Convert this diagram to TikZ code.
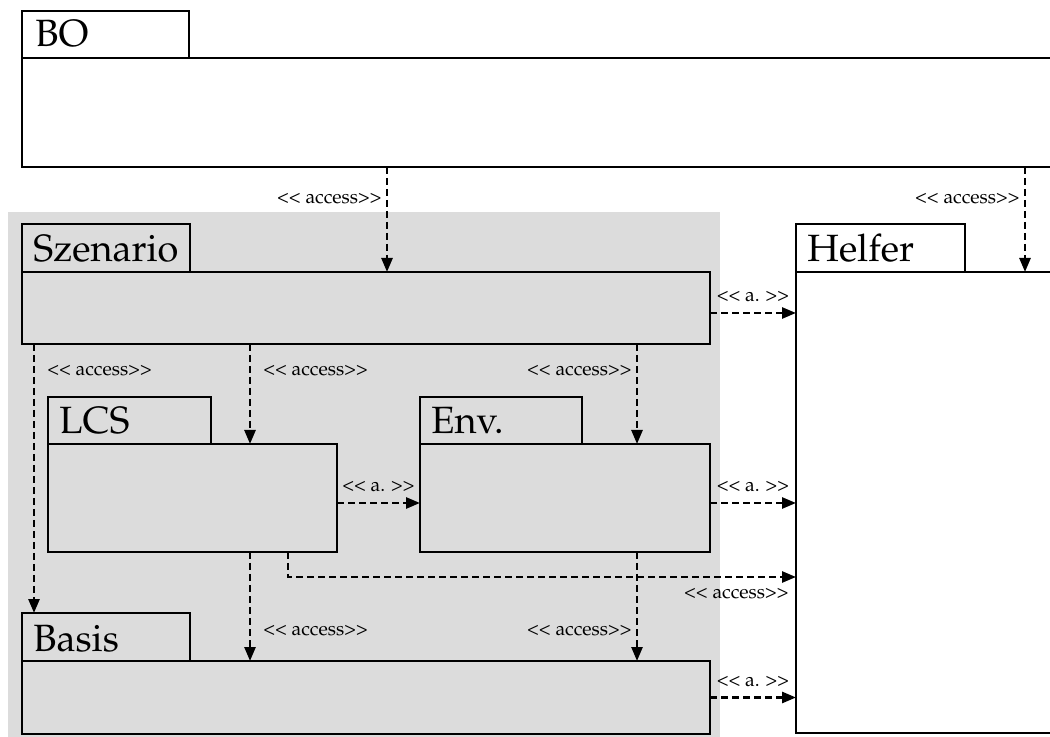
\documentclass[tikz,border=0pt]{standalone}
\usepackage[T1]{fontenc}
\usepackage{mathpazo}
\usetikzlibrary{arrows.meta,calc}
\definecolor{bggray}{HTML}{DCDCDC}
\tikzset{
  pkg/.style={draw, line width=1.2pt, anchor=north west, inner sep=0pt, outer sep=0pt},
  bgbox/.style={fill=bggray, draw=none, anchor=north west, inner sep=0pt, outer sep=0pt},
  tabtext/.style={anchor=base west, inner sep=0pt, font=\fontsize{19}{21}\selectfont},
  acc/.style={line width=1.3pt, dash pattern=on 3.5pt off 2pt, -{Triangle[length=7pt,width=5.5pt]}},
  lbl/.style={font=\fontsize{9.7}{11}\selectfont, inner sep=2pt},
}
\newcommand{\lt}{\textless\kern0pt}
\newcommand{\gt}{\textgreater\kern0pt}
\newcommand{\acctext}{\lt\lt{} access\gt\gt}
\newcommand{\atext}{\lt\lt{} a. \gt\gt}
\begin{document}
\begin{tikzpicture}[x=0.5pt,y=-0.5pt]
\useasboundingbox (0,0) rectangle (1050,737);
% grey group
\node[bgbox, minimum width=356pt, minimum height=266pt] (grp) at (8,212) {};
% BO
\node[pkg, minimum width=83.5pt, minimum height=23.5pt] (bot) at (22,11) {};
\node[pkg, minimum width=519pt, minimum height=54.5pt] (bob) at (22,58) {};
\node[tabtext] (bol) at ([shift={(6.5pt,5.5pt)}]bot.south west) {BO};
% Szenario
\node[pkg, minimum width=84pt, minimum height=24pt] (szt) at (22,224) {};
\node[pkg, minimum width=344pt, minimum height=36pt] (szb) at (22,272) {};
\node[tabtext] (szl) at ([shift={(5.5pt,5pt)}]szt.south west) {Szenario};
% LCS
\node[pkg, minimum width=81.5pt, minimum height=23.5pt] (lcst) at (48,397) {};
\node[pkg, minimum width=144.5pt, minimum height=54pt] (lcsb) at (48,444) {};
\node[tabtext] (lcsl) at ([shift={(5.5pt,5pt)}]lcst.south west) {LCS};
% Env.
\node[pkg, minimum width=81pt, minimum height=23.5pt] (envt) at (420,397) {};
\node[pkg, minimum width=145pt, minimum height=54pt] (envb) at (420,444) {};
\node[tabtext] (envl) at ([shift={(5.5pt,5pt)}]envt.south west) {Env.};
% Basis
\node[pkg, minimum width=84pt, minimum height=24pt] (bat) at (22,613) {};
\node[pkg, minimum width=344pt, minimum height=36.5pt] (bab) at (22,661) {};
\node[tabtext] (bal) at ([shift={(5.5pt,5pt)}]bat.south west) {Basis};
% Helfer
\node[pkg, minimum width=84.5pt, minimum height=24pt] (ht) at (796,224) {};
\node[pkg, minimum width=132pt, minimum height=230.5pt] (hb) at (796,272) {};
\node[tabtext] (hl) at ([shift={(5.5pt,5pt)}]ht.south west) {Helfer};

% connectors
\draw[acc] ([xshift=182.5pt]bob.south west) -- node[lbl, left, pos=0.3] {\acctext} ([xshift=182.5pt]szb.north west);
\draw[acc] ([xshift=501.5pt]bob.south west) -- node[lbl, left, pos=0.3] {\acctext} ([xshift=114.5pt]hb.north west);
\draw[acc] ([yshift=-2.5pt]szb.east) coordinate (s3) -- node[lbl, above=3pt] {\atext} (s3 -| hb.west);
\draw[acc] ([xshift=114pt]szb.south west) -- node[lbl, right=4pt, pos=0.27] {\acctext} ([xshift=101pt]lcsb.north west);
\draw[acc] ([xshift=307.5pt]szb.south west) -- node[lbl, left, pos=0.27] {\acctext} ([xshift=108.5pt]envb.north west);
\draw[acc] ([xshift=6pt]szb.south west) -- node[lbl, right=4pt, pos=0.1] {\acctext} ([xshift=6pt]bat.north west);
\draw[acc] ([yshift=-2.5pt]lcsb.east) coordinate (s7) -- node[lbl, above=3pt] {\atext} (s7 -| envb.west);
\draw[acc] ([yshift=-2.5pt]envb.east) coordinate (s8) -- node[lbl, above=3pt] {\atext} (s8 -| hb.west);
\coordinate (k9) at ([yshift=-12.5pt]lcsb.south);
\draw[acc] ([xshift=120pt]lcsb.south west) |- (k9 -| hb.west) node[lbl, anchor=north east, pos=1, yshift=-3pt, xshift=-1pt] {\acctext};
\draw[acc] ([xshift=101pt]lcsb.south west) -- node[lbl, right=4pt, pos=0.72] {\acctext} ([xshift=114pt]bab.north west);
\draw[acc] ([xshift=108.5pt]envb.south west) -- node[lbl, left, pos=0.72] {\acctext} ([xshift=307.5pt]bab.north west);
\draw[acc] (bab.east) coordinate (s12) -- node[lbl, above=3pt] {\atext} (s12 -| hb.west);
\end{tikzpicture}
\end{document}
